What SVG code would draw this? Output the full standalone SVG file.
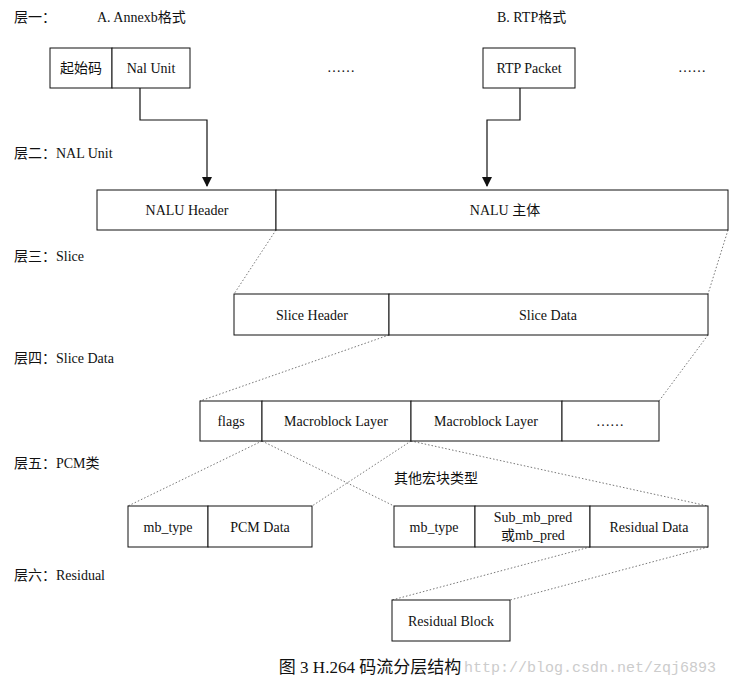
<svg xmlns="http://www.w3.org/2000/svg" width="745" height="683" viewBox="0 0 745 683">
<style>
text{font-family:"Liberation Serif","Noto Sans CJK SC",serif;font-size:14px;fill:#111}
.c{text-anchor:middle}
rect{fill:#fff;stroke:#111;stroke-width:1}
.d{stroke:#777;stroke-width:1;stroke-dasharray:1.5 2;fill:none}
.a{stroke:#111;stroke-width:1.2;fill:none}
</style>
<defs><marker id="ar" markerWidth="10" markerHeight="10" refX="9" refY="5" orient="auto" markerUnits="userSpaceOnUse"><path d="M0,0 L10,5 L0,10 z" fill="#111"/></marker></defs>
<rect x="0" y="0" width="745" height="683" style="stroke:none"/>
<g id="labels">
<text x="14" y="22">层一：</text>
<text x="97" y="22">A. Annexb格式</text>
<text x="497" y="22">B. RTP格式</text>
<text x="14" y="158">层二：NAL Unit</text>
<text x="14" y="261">层三：Slice</text>
<text x="14" y="363">层四：Slice Data</text>
<text x="14" y="468">层五：PCM类</text>
<text x="14" y="580">层六：Residual</text>
<text x="436" y="483" class="c">其他宏块类型</text>
<text x="341" y="72" class="c">……</text>
<text x="692" y="72" class="c">……</text>
</g>
<g id="connectors">
<path class="a" d="M140,88 V120 H207 V186" marker-end="url(#ar)"/>
<path class="a" d="M520,88 V120 H487 V186" marker-end="url(#ar)"/>
<path class="d" d="M276,230 L234,294 M728,230 L708,294 M389,335 L200,401 M708,335 L659,401 M262,441 L128,506 M411,441 L312,506 M262,441 L394,506 M411,441 L708,506 M590,547 L392,600 M708,547 L510,600"/>
</g>
<g id="layer1">
<rect x="50" y="48" width="62" height="40"/><text x="81" y="73" class="c">起始码</text>
<rect x="112" y="48" width="78" height="40"/><text x="151" y="73" class="c">Nal Unit</text>
<rect x="483" y="48" width="92" height="40"/><text x="529" y="73" class="c">RTP Packet</text>
</g>
<g id="nalu">
<rect x="97" y="190" width="179" height="40"/><text x="187" y="215" class="c">NALU Header</text>
<rect x="276" y="190" width="452" height="40"/><text x="505" y="215" class="c">NALU 主体</text>
</g>
<g id="slice">
<rect x="234" y="294" width="155" height="41"/><text x="312" y="320" class="c">Slice Header</text>
<rect x="389" y="294" width="319" height="41"/><text x="548" y="320" class="c">Slice Data</text>
</g>
<g id="slicedata">
<rect x="200" y="401" width="62" height="40"/><text x="231" y="426" class="c">flags</text>
<rect x="262" y="401" width="149" height="40"/><text x="336" y="426" class="c">Macroblock Layer</text>
<rect x="411" y="401" width="151" height="40"/><text x="486" y="426" class="c">Macroblock Layer</text>
<rect x="562" y="401" width="97" height="40"/><text x="610" y="426" class="c">……</text>
</g>
<g id="pcm">
<rect x="128" y="506" width="80" height="41"/><text x="168" y="532" class="c">mb_type</text>
<rect x="208" y="506" width="104" height="41"/><text x="260" y="532" class="c">PCM Data</text>
</g>
<g id="other">
<rect x="394" y="506" width="81" height="41"/><text x="434" y="532" class="c">mb_type</text>
<rect x="475" y="506" width="115" height="41"/><text x="533" y="522" class="c">Sub_mb_pred</text><text x="533" y="540" class="c">或mb_pred</text>
<rect x="590" y="506" width="118" height="41"/><text x="649" y="532" class="c">Residual Data</text>
</g>
<g id="residual">
<rect x="392" y="600" width="118" height="41"/><text x="451" y="626" class="c">Residual Block</text>
</g>
<text x="370" y="673" class="c" style="font-size:17px">图 3 H.264 码流分层结构</text>
<text x="590" y="672" class="c" style="font-family:'Liberation Mono',monospace;font-size:15px;fill:#ccc">http://blog.csdn.net/zqj6893</text>
</svg>
